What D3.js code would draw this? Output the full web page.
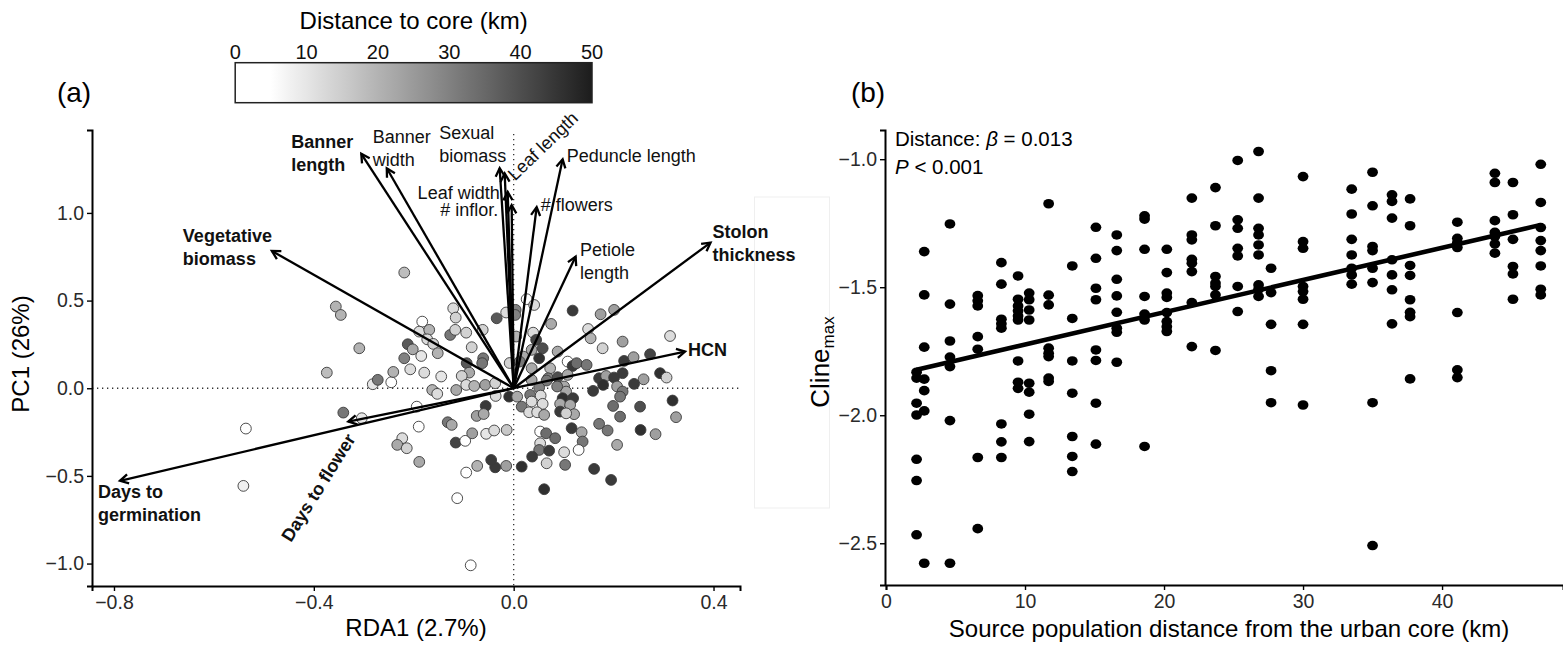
<!DOCTYPE html>
<html>
<head>
<meta charset="utf-8">
<script src="https://cdn.jsdelivr.net/npm/d3@7/dist/d3.min.js"></script>
<style>
  body { margin: 0; background: #fff; }
  svg text { font-family: "Liberation Sans", Arial, Helvetica, sans-serif; }
</style>
</head>
<body>
<svg id="chart" width="1563" height="645"></svg>
<script>
// ---------------- panel (a) data: RDA biplot ----------------
// population scores on RDA1 / PC1, and distance of the population to the urban core (km)
const siteRDA1 = [
  -0.219, -0.356, -0.346, -0.309, -0.374, -0.536, -0.541, -0.341, -0.304, -0.282,
  -0.272, -0.245, -0.241, -0.212, -0.202, -0.219, -0.207, -0.185, -0.183, -0.189,
  -0.169, -0.173, -0.161, -0.152, -0.179, -0.145, -0.163, -0.153, -0.190, -0.194,
  -0.132, -0.124, -0.223, -0.233, -0.214, -0.189, -0.116, -0.097, -0.083, -0.095,
  -0.073, -0.113, -0.086, -0.121, -0.116, -0.127, -0.117, -0.095, -0.084, -0.062,
  -0.094, -0.089, -0.104, -0.115, -0.095, -0.079, -0.061, -0.063, -0.057, -0.056,
  -0.074, -0.055,
  0.026, 0.041, -0.015, -0.034, 0.004, 0.003, 0.118, 0.174, 0.201, 0.075,
  0.039, 0.149, 0.005, 0.045, 0.058, 0.036, 0.088, 0.051, 0.019, 0.218,
  0.178, 0.154, 0.313, 0.108, 0.118, 0.126, 0.146, 0.073, 0.036, 0.069,
  0.088, 0.171, 0.185, 0.201, 0.218, 0.221, 0.240, 0.273, 0.260, 0.293,
  0.306, 0.241, 0.179, 0.159, 0.207, 0.218, 0.213, 0.101, 0.105, 0.087,
  0.066, 0.051, 0.033, 0.054, -0.009, 0.007, 0.016, 0.036, 0.058, 0.031,
  0.047, 0.061, 0.098, 0.119, 0.093, 0.113, 0.093, 0.121, 0.105, 0.199,
  0.213, 0.253, 0.318, 0.325, 0.116, 0.136, 0.171, 0.188, 0.254, 0.284,
  0.053, 0.065, 0.083, 0.138, 0.053, 0.051, 0.071, 0.101, 0.130, 0.207,
  0.037, 0.066, 0.103, 0.161, 0.195, 0.061, 0.016, -0.015, -0.037, -0.045,
  -0.014, -0.039, -0.037, -0.008, 0.012, 0.036, 0.108, -0.036, -0.060
];
const sitePC1 = [
  0.660, 0.466, 0.418, 0.228, 0.089, -0.230, -0.557, -0.139, -0.171, 0.023,
  0.048, 0.034, 0.093, 0.251, 0.222, 0.171, 0.108, 0.184, 0.380, 0.323,
  0.333, 0.279, 0.253, 0.200, 0.089, 0.067, -0.010, -0.032, -0.219, -0.105,
  -0.194, -0.209, -0.285, -0.323, -0.342, -0.420, -0.310, -0.300, -0.257, -0.481,
  -0.443, -0.627, -1.010, 0.456, 0.403, 0.304, 0.333, 0.317, 0.234, 0.333,
  0.143, 0.089, 0.070, -0.010, 0.019, 0.013, 0.171, 0.143, 0.019, -0.101,
  -0.158, -0.260,
  0.508, 0.475, 0.432, 0.399, 0.447, 0.418, 0.443, 0.422, 0.447, 0.367,
  0.317, 0.338, 0.295, 0.276, 0.228, 0.219, 0.209, 0.171, 0.181, 0.266,
  0.228, 0.285, 0.298, 0.152, 0.127, 0.143, 0.133, 0.114, 0.114, 0.057,
  0.063, 0.057, 0.070, 0.061, 0.086, 0.156, 0.177, 0.194, 0.051, 0.086,
  0.061, 0.025, 0.019, -0.015, 0.010, -0.019, -0.048, 0.010, -0.019, 0.010,
  0.044, 0.004, -0.038, -0.042, -0.048, -0.048, -0.105, -0.076, -0.089, -0.137,
  -0.137, -0.152, -0.057, -0.057, -0.089, -0.095, -0.133, -0.148, -0.143, -0.101,
  -0.162, -0.105, -0.070, -0.165, -0.228, -0.251, -0.203, -0.241, -0.238, -0.262,
  -0.247, -0.257, -0.285, -0.304, -0.314, -0.352, -0.356, -0.365, -0.352, -0.323,
  -0.390, -0.428, -0.437, -0.460, -0.523, -0.576, -0.447, -0.443, -0.451, -0.409,
  -0.238, -0.241, 0.029, 0.144, 0.152, 0.047, 0.076, -0.044, -0.147
];
const siteDist = [
  18, 20, 20, 20, 18, 3, 8, 32, 10, 10,
  32, 4, 20, 38, 22, 30, 12, 10, 4, 12,
  20, 12, 14, 20, 12, 10, 20, 12, 4, 5,
  32, 22, 12, 22, 14, 22, 42, 5, 24, 4,
  20, 4, 4, 12, 14, 32, 14, 14, 14, 14,
  38, 22, 14, 22, 12, 20, 32, 32, 24, 44,
  24, 10,
  4, 12, 12, 38, 30, 30, 44, 24, 24, 22,
  12, 12, 20, 42, 40, 22, 22, 46, 22, 24,
  14, 20, 12, 4, 44, 34, 32, 20, 22, 30,
  40, 44, 24, 44, 44, 44, 24, 42, 24, 46,
  14, 44, 46, 44, 24, 32, 32, 22, 22, 30,
  32, 30, 32, 12, 46, 22, 32, 12, 12, 12,
  12, 22, 46, 44, 22, 22, 44, 22, 14, 34,
  34, 40, 46, 24, 44, 22, 32, 32, 46, 24,
  4, 34, 34, 32, 12, 32, 44, 12, 4, 22,
  44, 14, 32, 44, 44, 46, 46, 24, 44, 44,
  16, 12, 14, 14, 32, 22, 22, 12, 22
];

// trait loadings (arrow tips)
const traitNames = ['Vegetative biomass', 'Banner length', 'Banner width', 'Sexual biomass',
  'Leaf length', 'Leaf width', '# inflor.', '# flowers', 'Peduncle length', 'Petiole length',
  'Stolon thickness', 'HCN', 'Days to germination', 'Days to flower'];
const traitRDA1 = [-0.484, -0.305, -0.254, -0.028, -0.018, -0.012, -0.004, 0.046, 0.098, 0.124,
  0.394, 0.343, -0.788, -0.331];
const traitPC1 = [0.783, 1.337, 1.255, 1.255, 1.225, 1.120, 1.045, 1.033, 1.306, 0.751,
  0.831, 0.209, -0.528, -0.190];
// how each label is written (line breaks)
const traitLabels = [['Vegetative', 'biomass'], ['Banner', 'length'], ['Banner', 'width'], ['Sexual', 'biomass'],
  ['Leaf length'], ['Leaf width'], ['# inflor.'], ['# flowers'], ['Peduncle length'], ['Petiole', 'length'],
  ['Stolon', 'thickness'], ['HCN'], ['Days to', 'germination'], ['Days to flower']];

const distTicks = [0, 10, 20, 30, 40, 50];
const rdaTicks = [-0.8, -0.4, 0, 0.4];
const pcTicks = [-1, -0.5, 0, 0.5, 1];

// ---------------- panel (b) data: cline vs distance ----------------
const clineDistance = [2.2, 2.75, 4.6, 6.6, 8.3, 9.5, 10.3, 11.7, 13.4, 15.1, 16.6, 18.6, 20.2, 22.0,
  23.7, 25.3, 26.8, 27.7, 30.0, 33.5, 35.0, 36.4, 37.7, 41.1, 43.8, 45.1, 47.1];
const clineMax = [
  [-1.832, -1.855, -1.953, -1.999, -2.172, -2.255, -2.467],
  [-1.361, -1.530, -1.734, -1.859, -1.904, -1.983, -2.578],
  [-1.253, -1.566, -1.710, -1.773, -1.810, -2.021, -2.578],
  [-1.533, -1.553, -1.573, -1.693, -1.742, -2.165, -2.443],
  [-1.404, -1.488, -1.625, -1.643, -1.660, -2.034, -2.104, -2.165],
  [-1.456, -1.547, -1.573, -1.592, -1.612, -1.628, -1.788, -1.871, -1.895],
  [-1.523, -1.549, -1.589, -1.628, -1.875, -1.910, -1.996, -2.103],
  [-1.174, -1.531, -1.569, -1.738, -1.758, -1.771, -1.855, -1.868],
  [-1.417, -1.622, -1.788, -1.914, -2.083, -2.161, -2.220],
  [-1.266, -1.387, -1.504, -1.549, -1.745, -1.786, -1.953, -2.113],
  [-1.296, -1.357, -1.469, -1.534, -1.598, -1.660, -1.676, -1.793],
  [-1.221, -1.234, -1.352, -1.536, -1.605, -1.628, -2.122],
  [-1.352, -1.443, -1.523, -1.540, -1.599, -1.634, -1.654, -1.673],
  [-1.152, -1.296, -1.315, -1.391, -1.406, -1.439, -1.560, -1.732],
  [-1.111, -1.260, -1.458, -1.484, -1.497, -1.530, -1.747],
  [-1.005, -1.237, -1.270, -1.348, -1.378, -1.497, -1.595],
  [-0.970, -1.152, -1.270, -1.296, -1.335, -1.374, -1.491, -1.508, -1.536],
  [-1.426, -1.521, -1.645, -1.826, -1.951],
  [-1.068, -1.322, -1.348, -1.497, -1.517, -1.547, -1.645, -1.960],
  [-1.117, -1.214, -1.313, -1.374, -1.426, -1.452, -1.488],
  [-1.051, -1.182, -1.341, -1.357, -1.426, -1.482, -1.951, -2.509],
  [-1.139, -1.165, -1.230, -1.393, -1.452, -1.510, -1.643],
  [-1.155, -1.260, -1.415, -1.454, -1.549, -1.598, -1.615, -1.858],
  [-1.246, -1.309, -1.326, -1.345, -1.599, -1.823, -1.853],
  [-1.055, -1.091, -1.240, -1.286, -1.302, -1.331, -1.367],
  [-1.091, -1.217, -1.313, -1.419, -1.448, -1.547],
  [-1.020, -1.169, -1.267, -1.318, -1.357, -1.417, -1.508, -1.530]
];
// fitted regression (beta = 0.013)
const fitIntercept = -1.850;
const fitSlope = 0.0126;
const distKmTicks = [0, 10, 20, 30, 40];
const clineTicks = [-2.5, -2.0, -1.5, -1.0];

// ---------------- layout ----------------
const svg = d3.select('#chart');
const fmt1 = d3.format('.1f');
const tickFont = '19.5px';
const titleFont = '24px';
const labelGap = 23;

// label placement relative to the arrow tip (pixels)
const labelLayout = {
  'Vegetative biomass': { dx: -89, dy: -15, anchor: 'start', bold: true },
  'Banner length': { dx: -70, dy: -12, anchor: 'start', bold: true },
  'Banner width': { dx: -14, dy: -32, anchor: 'start' },
  'Sexual biomass': { dx: -60.5, dy: -36, anchor: 'start' },
  'Leaf length': { dx: 6, dy: 3.5, anchor: 'start', rot: -44 },
  'Leaf width': { dx: -8, dy: 1, anchor: 'end' },
  '# inflor.': { dx: -13.5, dy: 5, anchor: 'end' },
  '# flowers': { dx: 4, dy: -2, anchor: 'start' },
  'Peduncle length': { dx: 4, dy: -3.5, anchor: 'start' },
  'Petiole length': { dx: 4.3, dy: -7.3, anchor: 'start' },
  'Stolon thickness': { dx: 2, dy: -11, anchor: 'start', bold: true },
  'HCN': { dx: 3, dy: -2, anchor: 'start', bold: true },
  'Days to germination': { dx: -22, dy: 11, anchor: 'start', bold: true },
  'Days to flower': { dx: -30, dy: 66, anchor: 'middle', bold: true, rot: -58 }
};

// colour for distance to core
const fillScale = d3.scaleLinear().domain([0, 5, 50]).range(['#ffffff', '#ffffff', '#1c1c1c']);

// scales for panel (a)
const xA = d3.scaleLinear().domain([-0.844, 0.453]).range([92, 740]);
const yA = d3.scaleLinear().domain([-1.128, 1.473]).range([586, 130]);

// scales for panel (b)
const xB = d3.scaleLinear().domain([0, 48.7]).range([886, 1563]);
const yB = d3.scaleLinear().domain([-2.663, -0.886]).range([585, 130]);

function styleAxis(g){
    g.select('.domain').attr('stroke', '#000').attr('stroke-width', 2);
    g.selectAll('.tick line').attr('stroke', '#000').attr('stroke-width', 1.4);
    g.selectAll('.tick text').attr('fill', '#2a2a2a').style('font-size', tickFont);
}

// faint box left over from the figure layout
svg.append('rect')
    .attr('x', 754.5).attr('y', 197).attr('width', 75).attr('height', 311)
    .attr('fill', 'none').attr('stroke', '#efefef').attr('stroke-width', 1);

// ======== panel (a) ========
let gA = svg.append('g');

// dotted zero lines
gA.append('line')
    .attr('x1', xA(0)).attr('x2', xA(0))
    .attr('y1', 134).attr('y2', yA.range()[0])
    .attr('stroke', '#333').attr('stroke-width', 1.3).attr('stroke-dasharray', '1.3,3.7');
gA.append('line')
    .attr('x1', xA.range()[0]).attr('x2', xA.range()[1])
    .attr('y1', yA(0)).attr('y2', yA(0))
    .attr('stroke', '#333').attr('stroke-width', 1.3).attr('stroke-dasharray', '1.3,3.7');

// population points
let sites = siteRDA1.map((v, i) => ({ x: v, y: sitePC1[i], d: siteDist[i] }));
gA.selectAll('circle.site')
    .data(sites)
    .enter()
    .append('circle')
        .attr('class', 'site')
        .attr('cx', (d) => xA(d.x))
        .attr('cy', (d) => yA(d.y))
        .attr('r', 5.4)
        .attr('fill', (d) => fillScale(d.d))
        .attr('stroke', '#3a3a3a')
        .attr('stroke-width', 0.9);

// trait arrows
let traits = traitNames.map((n, i) => ({ name: n, x: traitRDA1[i], y: traitPC1[i], lines: traitLabels[i] }));
let ox = xA(0), oy = yA(0);
traits.forEach(function(t){
    let tx = xA(t.x), ty = yA(t.y);
    gA.append('line')
        .attr('x1', ox).attr('y1', oy).attr('x2', tx).attr('y2', ty)
        .attr('stroke', '#000').attr('stroke-width', 2.3);
    // open arrow head
    let ang = Math.atan2(ty - oy, tx - ox);
    let len = 9.5, spread = 0.5;
    let p1 = [tx - len * Math.cos(ang - spread), ty - len * Math.sin(ang - spread)];
    let p2 = [tx - len * Math.cos(ang + spread), ty - len * Math.sin(ang + spread)];
    gA.append('path')
        .attr('d', `M${p1[0]},${p1[1]}L${tx},${ty}L${p2[0]},${p2[1]}`)
        .attr('fill', 'none').attr('stroke', '#000').attr('stroke-width', 2.3)
        .attr('stroke-linejoin', 'miter');

    // label
    let lay = labelLayout[t.name];
    let lx = tx + lay.dx, ly = ty + lay.dy;
    let txt = gA.append('text')
        .attr('transform', `translate(${lx},${ly})` + (lay.rot ? ` rotate(${lay.rot})` : ''))
        .attr('text-anchor', lay.anchor)
        .style('font-size', '18px')
        .style('font-weight', lay.bold ? 'bold' : 'normal')
        .attr('fill', '#111');
    t.lines.forEach(function(line, k){
        txt.append('tspan')
            .attr('x', 0)
            .attr('y', k * labelGap)
            .attr('dy', '0.35em')
            .text(line);
    });
});

// axes
let axAx = gA.append('g')
    .attr('transform', `translate(0, ${yA.range()[0]})`)
    .call(d3.axisBottom(xA).tickValues(rdaTicks).tickFormat(fmt1).tickSizeOuter(0).tickSize(5).tickPadding(4));
styleAxis(axAx);
let axAy = gA.append('g')
    .attr('transform', `translate(${xA.range()[0]}, 0)`)
    .call(d3.axisLeft(yA).tickValues(pcTicks).tickFormat(fmt1).tickSizeOuter(0).tickSize(5).tickPadding(3));
styleAxis(axAy);

// axis titles
gA.append('text')
    .attr('x', (xA.range()[0] + xA.range()[1]) / 2)
    .attr('y', 628)
    .attr('dy', '0.35em')
    .attr('text-anchor', 'middle')
    .style('font-size', titleFont)
    .text('RDA1 (2.7%)');
gA.append('text')
    .attr('transform', 'translate(21, 354) rotate(-90)')
    .attr('dy', '0.35em')
    .attr('text-anchor', 'middle')
    .style('font-size', titleFont)
    .text('PC1 (26%)');

// panel tag
svg.append('text').attr('x', 74).attr('y', 92).attr('dy', '0.35em')
    .attr('text-anchor', 'middle').style('font-size', '28px').text('(a)');

// colour bar legend
let cbX = d3.scaleLinear().domain([0, 50]).range([235.2, 592]);
let grad = svg.append('defs').append('linearGradient')
    .attr('id', 'distGrad').attr('x1', '0%').attr('x2', '100%').attr('y1', '0%').attr('y2', '0%');
d3.range(0, 51, 2.5).forEach(function(v){
    grad.append('stop').attr('offset', (v / 50 * 100) + '%').attr('stop-color', fillScale(v));
});
svg.append('rect')
    .attr('x', cbX(0)).attr('y', 62.7)
    .attr('width', cbX(50) - cbX(0)).attr('height', 40)
    .attr('fill', 'url(#distGrad)')
    .attr('stroke', '#222').attr('stroke-width', 1.5);
svg.selectAll('text.cbtick')
    .data(distTicks)
    .enter()
    .append('text')
        .attr('class', 'cbtick')
        .attr('x', (d) => cbX(d))
        .attr('y', 51.5)
        .attr('dy', '0.35em')
        .attr('text-anchor', 'middle')
        .style('font-size', '20px')
        .attr('fill', '#111')
        .text((d) => d);
svg.append('text')
    .attr('x', cbX(25)).attr('y', 20.5).attr('dy', '0.35em')
    .attr('text-anchor', 'middle')
    .style('font-size', titleFont)
    .text('Distance to core (km)');

// ======== panel (b) ========
let gB = svg.append('g');

let cline = [];
clineDistance.forEach(function(d, i){
    clineMax[i].forEach(function(v){ cline.push({ x: d, y: v }); });
});
gB.selectAll('ellipse')
    .data(cline)
    .enter()
    .append('ellipse')
        .attr('cx', (d) => xB(d.x))
        .attr('cy', (d) => yB(d.y))
        .attr('rx', 5.4)
        .attr('ry', 4.8)
        .attr('fill', '#000');

// regression line
let ext = d3.extent(clineDistance);
gB.append('line')
    .attr('x1', xB(ext[0])).attr('y1', yB(fitIntercept + fitSlope * ext[0]))
    .attr('x2', xB(ext[1])).attr('y2', yB(fitIntercept + fitSlope * ext[1]))
    .attr('stroke', '#000').attr('stroke-width', 4.6);

// axes
let axBx = gB.append('g')
    .attr('transform', `translate(0, ${yB.range()[0]})`)
    .call(d3.axisBottom(xB).tickValues(distKmTicks).tickSizeOuter(0).tickSize(5).tickPadding(4));
styleAxis(axBx);
let axBy = gB.append('g')
    .attr('transform', `translate(885, 0)`)
    .call(d3.axisLeft(yB).tickValues(clineTicks).tickFormat(fmt1).tickSizeOuter(0).tickSize(5).tickPadding(3));
styleAxis(axBy);

// axis titles
gB.append('text')
    .attr('x', 1229)
    .attr('y', 629)
    .attr('dy', '0.35em')
    .attr('text-anchor', 'middle')
    .style('font-size', titleFont)
    .text('Source population distance from the urban core (km)');
let yt = gB.append('text')
    .attr('transform', 'translate(829, 362) rotate(-90)')
    .attr('text-anchor', 'middle')
    .style('font-size', '26px');
yt.append('tspan').text('Cline');
yt.append('tspan').attr('dy', '5').style('font-size', '17px').text('max');

// statistics
let st = gB.append('text').attr('x', 895).attr('y', 138.5).attr('dy', '0.35em').style('font-size', '20.5px');
st.append('tspan').text('Distance: ');
st.append('tspan').style('font-style', 'italic').text('\u03b2');
st.append('tspan').text(' = 0.013');
let sp = gB.append('text').attr('x', 895).attr('y', 166.5).attr('dy', '0.35em').style('font-size', '20.5px');
sp.append('tspan').style('font-style', 'italic').text('P');
sp.append('tspan').text(' < 0.001');

svg.append('text').attr('x', 868).attr('y', 92).attr('dy', '0.35em')
    .attr('text-anchor', 'middle').style('font-size', '28px').text('(b)');
</script>
</body>
</html>
